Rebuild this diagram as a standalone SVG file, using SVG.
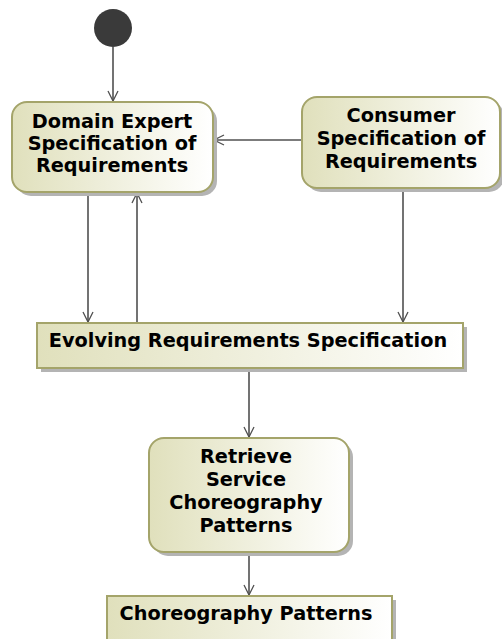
<svg xmlns="http://www.w3.org/2000/svg" width="502" height="639" viewBox="0 0 502 639">
<defs>
<linearGradient id="g" x1="0" y1="0" x2="1" y2="0">
<stop offset="0" stop-color="#e0e0bc"/>
<stop offset="1" stop-color="#ffffff"/>
</linearGradient>
<marker id="arr" viewBox="0 0 12 12" refX="11" refY="6" markerWidth="12" markerHeight="12" markerUnits="userSpaceOnUse" orient="auto">
<path d="M1,1 L11,6 L1,11" fill="none" stroke="#505050" stroke-width="1.3"/>
</marker>
</defs>
<style>
.sh{fill:#b4b4b4}
.bx{fill:url(#g);stroke:#a4a46a;stroke-width:2}
.t{font-family:"DejaVu Sans",Verdana,sans-serif;font-weight:bold;font-size:19.3px;fill:#000;text-anchor:middle}
.c{stroke:#505050;stroke-width:1.6;fill:none;marker-end:url(#arr)}
</style>
<rect width="502" height="639" fill="#fff"/>
<g id="initial">
<circle cx="113" cy="28" r="19" fill="#3a3a3a"/>
</g>
<g id="connectors">
<line class="c" x1="113" y1="47" x2="113" y2="101"/>
<line class="c" x1="302" y1="140" x2="214" y2="140"/>
<line class="c" x1="88" y1="192" x2="88" y2="322"/>
<line class="c" x1="137" y1="323" x2="137" y2="193"/>
<line class="c" x1="403" y1="188" x2="403" y2="322"/>
<line class="c" x1="249" y1="368" x2="249" y2="437"/>
<line class="c" x1="249" y1="552" x2="249" y2="595"/>
</g>
<g id="domain">
<rect class="sh" x="16" y="106" width="201" height="90" rx="15"/>
<rect class="bx" x="12" y="102" width="201" height="90" rx="15"/>
<text class="t" x="112" y="128">Domain Expert</text>
<text class="t" x="112" y="150">Specification of</text>
<text class="t" x="112" y="172">Requirements</text>
</g>
<g id="consumer">
<rect class="sh" x="306" y="101" width="198" height="91" rx="15"/>
<rect class="bx" x="302" y="97" width="198" height="91" rx="15"/>
<text class="t" x="401" y="122">Consumer</text>
<text class="t" x="401" y="145">Specification of</text>
<text class="t" x="401" y="168">Requirements</text>
</g>
<g id="evolving">
<rect class="sh" x="41" y="327" width="426" height="45"/>
<rect class="bx" x="37" y="323" width="426" height="45"/>
<text class="t" x="248" y="347">Evolving Requirements Specification</text>
</g>
<g id="retrieve">
<rect class="sh" x="153" y="442" width="200" height="114" rx="15"/>
<rect class="bx" x="149" y="438" width="200" height="114" rx="15"/>
<text class="t" x="246" y="463">Retrieve</text>
<text class="t" x="246" y="486">Service</text>
<text class="t" x="246" y="509">Choreography</text>
<text class="t" x="246" y="532">Patterns</text>
</g>
<g id="patterns">
<rect class="sh" x="111" y="600" width="285" height="50"/>
<rect class="bx" x="107" y="596" width="285" height="50"/>
<text class="t" x="246" y="620">Choreography Patterns</text>
</g>
</svg>
